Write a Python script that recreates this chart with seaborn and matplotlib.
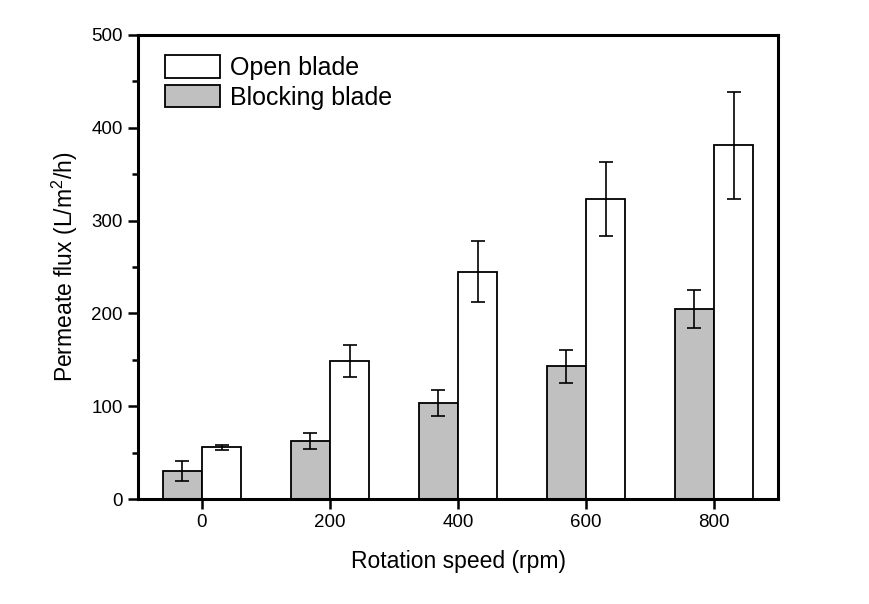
import matplotlib
matplotlib.use("Agg")
import matplotlib.pyplot as plt
import seaborn as sns
import pandas as pd
import numpy as np
from matplotlib.patches import Patch
from matplotlib.ticker import MultipleLocator

speeds = ["0", "200", "400", "600", "800"]
open_vals = [56, 149, 245, 323, 381]
open_err = [2.7, 17, 33, 40, 58]
block_vals = [30, 63, 103, 143, 205]
block_err = [10.5, 8.6, 14, 18, 20.5]
series = ["Blocking blade", "Open blade"]

df = pd.DataFrame({
    "speed": speeds * 2,
    "flux": block_vals + open_vals,
    "err": block_err + open_err,
    "blade": [series[0]] * 5 + [series[1]] * 5,
})

sns.set_style("ticks")
plt.rcParams["font.family"] = ["Liberation Sans", "DejaVu Sans"]
plt.rcParams["mathtext.fontset"] = "custom"
plt.rcParams["mathtext.rm"] = "Liberation Sans"
plt.rcParams["text.color"] = "black"
plt.rcParams["axes.labelcolor"] = "black"
plt.rcParams["xtick.color"] = "black"
plt.rcParams["ytick.color"] = "black"

fig = plt.figure(figsize=(8.69, 6.04), dpi=100)
ax = fig.add_axes([0.1588, 0.1738, 0.8953 - 0.1588, 0.9421 - 0.1738])

colors = {"Blocking blade": "#c0c0c0", "Open blade": "#ffffff"}
sns.barplot(data=df, x="speed", y="flux", hue="blade", hue_order=series,
            order=speeds, palette=colors, width=0.61, gap=0, errorbar=None,
            edgecolor="black", linewidth=1.3, legend=False, ax=ax)

for cont, name in zip(ax.containers, series):
    sub = df[df["blade"] == name]
    xs = [p.get_x() + p.get_width() / 2 for p in cont.patches]
    ax.errorbar(xs, sub["flux"].values, yerr=sub["err"].values, fmt="none",
                ecolor="black", elinewidth=1.2, capsize=5, capthick=1.2, zorder=5)

ax.set_xlim(-0.5, 4.5)
ax.set_ylim(0, 500)
ax.yaxis.set_major_locator(MultipleLocator(100))
ax.yaxis.set_minor_locator(MultipleLocator(50))
for s in ax.spines.values():
    s.set_visible(True)
    s.set_linewidth(2.2)
    s.set_color("black")
ax.tick_params(axis="both", which="major", direction="out", length=7, width=1.8,
               labelsize=13.5, pad=4, colors="black")
ax.tick_params(axis="y", which="minor", direction="out", length=4, width=1.8, colors="black")
ax.set_xlabel("Rotation speed (rpm)", fontsize=16.5, labelpad=13.5, color="black")
ax.set_ylabel("Permeate flux (L/m$^2$/h)", fontsize=16.5, labelpad=8, color="black")

handles = [Patch(facecolor="#ffffff", edgecolor="black", linewidth=1.3, label="Open blade"),
           Patch(facecolor="#c0c0c0", edgecolor="black", linewidth=1.3, label="Blocking blade")]
leg = ax.legend(handles=handles, loc="upper left", frameon=False, fontsize=18,
                handlelength=2.2, handleheight=1.0, borderaxespad=0, borderpad=0.4,
                labelspacing=0.2, handletextpad=0.4, bbox_to_anchor=(0.0266, 0.978))
for t in leg.get_texts():
    t.set_color("black")

fig.savefig("out.png", dpi=100, facecolor="white")
